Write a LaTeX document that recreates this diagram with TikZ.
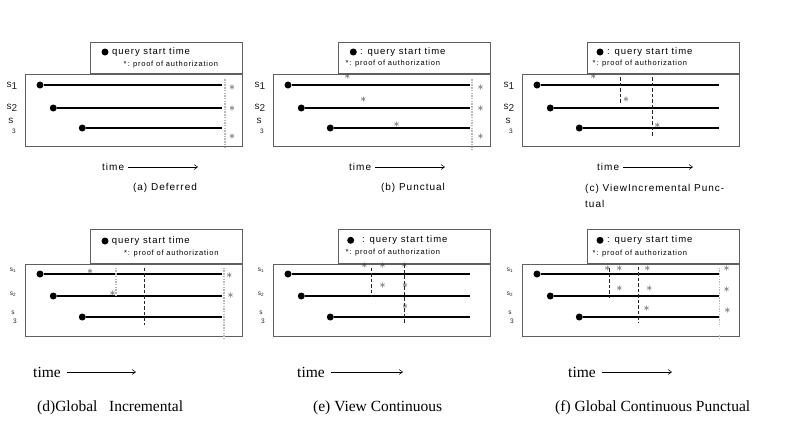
\documentclass[tikz,border=0pt]{standalone}
\usepackage{fontspec}
\setmainfont{Liberation Serif}
\newfontfamily\ssp[LetterSpace=10]{Liberation Sans}
\newfontfamily\plainsans{Liberation Sans}
\usetikzlibrary{arrows.meta}
\tikzset{
 boxsty/.style={draw=gray!75!black, line width=1.1pt, inner sep=0, rectangle},
 tl/.style={line width=1.1pt, black},
 qdot/.style={circle, fill=black, inner sep=0, minimum size=7pt},
 ldot/.style={circle, fill=black, inner sep=0, minimum size=7pt},
 astk/.style={inner sep=0, text=gray!45!black, font=\fontsize{12.5}{12.5}\selectfont},
 gdot/.style={draw=gray!55, line width=1.1pt, dash pattern=on 1.5pt off 1.2pt},
 ddash/.style={draw=gray!30!black, line width=0.7pt, dash pattern=on 3.5pt off 2pt},
 leg1/.style={anchor=west, inner sep=0, font=\ssp\fontsize{9.5}{10}\selectfont},
 leg2/.style={anchor=west, inner sep=0, font=\ssp\fontsize{7.5}{8}\selectfont},
 labT/.style={inner sep=0, font=\plainsans\fontsize{10}{10}\selectfont, text=gray!25!black},
 labB/.style={inner sep=0, font=\plainsans\fontsize{6.5}{7}\selectfont, text=gray!25!black},
 tarrow/.style={-{Straight Barb[length=3.5pt,width=5pt]}, line width=0.5pt},
 capT/.style={anchor=west, inner sep=0, font=\ssp\fontsize{10}{16}\selectfont, align=left},
 timeT/.style={anchor=west, inner sep=0, font=\ssp\fontsize{10}{10}\selectfont},
 timeB/.style={anchor=west, inner sep=0, font=\fontsize{15.5}{16}\selectfont},
 capB/.style={anchor=west, inner sep=0, font=\fontsize{15.5}{16}\selectfont},
}
% #1 legend height, #2 #3 #4 line ys
\newcommand\frameP[4]{%
  \node[boxsty, minimum width=152pt, minimum height=#1pt, anchor=south west] (leg) at (65,0) {};
  \node[boxsty, minimum width=217pt, minimum height=72pt, anchor=north west] (box) at (0,0) {};
  \coordinate (e1) at (197,#2); \coordinate (e2) at (197,#3); \coordinate (e3) at (197,#4);
  \node[qdot] (d1) at (15,#2) {};
  \node[qdot] (d2) at (28.3,#3) {};
  \node[qdot] (d3) at (57.3,#4) {};
  \draw[tl] (d1) -- (e1);
  \draw[tl] (d2) -- (e2);
  \draw[tl] (d3) -- (e3);
}
\newcommand\labsT{%
  \node[labT] (l1) at (-13,12) {s\raisebox{-2.5pt}{1}};
  \node[labT] (l2) at (-13,34) {s\raisebox{-2.5pt}{2}};
  \node[labT] (l3) at (-14,47) {s};
  \node[labT, font=\plainsans\fontsize{6.5}{7}\selectfont] (l3n) at (-11,57) {3};
}
\newcommand\labsB{%
  \node[labB] (l1) at (-12,6) {s\textsubscript{1}};
  \node[labB] (l2) at (-12,30) {s\textsubscript{2}};
  \node[labB] (l3) at (-12,49) {s};
  \node[labB] (l3n) at (-10,57) {3};
}
\begin{document}
\begin{tikzpicture}[x=1pt,y=-1pt]
\useasboundingbox (0,0) rectangle (787,429);
\fill[white] (0,0) rectangle (787,429);

% ---------- (a)
\begin{scope}[shift={(25,74)}, name prefix=a-]
  \frameP{31}{11}{34}{54}\labsT
  \node[ldot] (lq) at (80,-22) {};
  \node[leg1] (lqt) at (87,-22) {query start time};
  \node[leg2] (lpt) at (98.5,-9) {*: proof of authorization};
  \coordinate (v1t) at (200,5); \coordinate (v1b) at (200,74);
  \draw[gdot] (v1t) -- (v1b);
  \node[astk] (s1) at (207,14) {$\ast$};
  \node[astk] (s2) at (207,35) {$\ast$};
  \node[astk] (s3) at (207,63) {$\ast$};
  \node[timeT] (tm) at (77,93) {time};
  \coordinate (ta) at (173,93);
  \draw[tarrow] ([xshift=4pt]tm.east) -- (ta);
  \node[capT, anchor=center] (cap) at (140,114) {(a) Deferred};
\end{scope}

% ---------- (b)
\begin{scope}[shift={(273,74)}, name prefix=b-]
  \frameP{31}{11}{34}{54}\labsT
  \node[ldot] (lq) at (80.3,-22) {};
  \node[leg1] (lqt) at (87,-22) {: query start time};
  \node[leg2] (lpt) at (72.5,-10) {*: proof of authorization};
  \coordinate (v1t) at (199,5); \coordinate (v1b) at (199,76);
  \draw[gdot] (v1t) -- (v1b);
  \node[astk] (s1) at (207.7,14) {$\ast$};
  \node[astk] (s2) at (207.7,35) {$\ast$};
  \node[astk] (s3) at (207.7,63) {$\ast$};
  \node[astk] (x1) at (74.3,3.2) {$\ast$};
  \node[astk] (x2) at (90.3,26) {$\ast$};
  \node[astk] (x3) at (123.7,51) {$\ast$};
  \node[timeT] (tm) at (76,93) {time};
  \coordinate (ta) at (172,93);
  \draw[tarrow] ([xshift=4pt]tm.east) -- (ta);
  \node[capT, anchor=center] (cap) at (140,114) {(b) Punctual};
\end{scope}

% ---------- (c)
\begin{scope}[shift={(522,74)}, name prefix=c-]
  \frameP{31}{11}{34}{54}\labsT
  \node[ldot] (lq) at (78,-22) {};
  \node[leg1] (lqt) at (85,-22) {: query start time};
  \node[leg2] (lpt) at (70.5,-10) {*: proof of authorization};
  \coordinate (v1t) at (98,3.3); \coordinate (v1b) at (98,29.3);
  \coordinate (v2t) at (130.7,3); \coordinate (v2b) at (130.7,62.7);
  \draw[ddash] (v1t) -- (v1b);
  \draw[ddash] (v2t) -- (v2b);
  \node[astk] (x1) at (71.3,3.2) {$\ast$};
  \node[astk] (x2) at (104,26) {$\ast$};
  \node[astk] (x3) at (135.3,52) {$\ast$};
  \node[timeT] (tm) at (75,93) {time};
  \coordinate (ta) at (171,93);
  \draw[tarrow] ([xshift=4pt]tm.east) -- (ta);
  \node[capT] (cap) at (63,122) {(c) ViewIncremental Punc-\\tual};
\end{scope}

% ---------- (d)
\begin{scope}[shift={(25,264)}, name prefix=d-]
  \frameP{34}{10}{32}{53}\labsB
  \node[ldot] (lq) at (80,-23) {};
  \node[leg1] (lqt) at (86.7,-23) {query start time};
  \node[leg2] (lpt) at (99,-10) {*: proof of authorization};
  \coordinate (v1t) at (91,3.7); \coordinate (v1b) at (91,31);
  \coordinate (v2t) at (119,3.7); \coordinate (v2b) at (119,61);
  \coordinate (v3t) at (199,3.7); \coordinate (v3b) at (199,74);
  \draw[gdot] (v1t) -- (v1b);
  \draw[ddash] (v2t) -- (v2b);
  \draw[gdot] (v3t) -- (v3b);
  \node[astk] (x1) at (65,7.7) {$\ast$};
  \node[astk] (x2) at (87.7,29.3) {$\ast$};
  \node[astk] (s1) at (204.3,11.7) {$\ast$};
  \node[astk] (s2) at (205.7,31.7) {$\ast$};
  \node[timeB] (tm) at (8,108) {time};
  \coordinate (ta) at (111,108);
  \draw[tarrow] ([xshift=6pt]tm.east) -- (ta);
  \node[capB] (cap) at (12,144) {(d)Global\ \ \ Incremental};
\end{scope}

% ---------- (e)
\begin{scope}[shift={(273,264)}, name prefix=e-]
  \frameP{34}{10}{32}{53}\labsB
  \node[ldot] (lq) at (77.7,-23.7) {};
  \node[leg1] (lqt) at (89,-23.7) {: query start time};
  \node[leg2] (lpt) at (72.5,-11) {*: proof of authorization};
  \coordinate (v1t) at (98.7,3.7); \coordinate (v1b) at (98.7,32.7);
  \coordinate (v2t) at (131,0.3); \coordinate (v2b) at (131,59.3);
  \draw[ddash] (v1t) -- (v1b);
  \draw[ddash] (v2t) -- (v2b);
  \node[astk] (x1) at (91.3,1.7) {$\ast$};
  \node[astk] (x2) at (109.7,1.7) {$\ast$};
  \node[astk] (x3) at (131.3,1.7) {$\ast$};
  \node[astk] (x4) at (109.7,22) {$\ast$};
  \node[astk] (x5) at (132,22) {$\ast$};
  \node[astk] (x6) at (132,42.7) {$\ast$};
  \node[timeB] (tm) at (24,108) {time};
  \coordinate (ta) at (130,108);
  \draw[tarrow] ([xshift=6pt]tm.east) -- (ta);
  \node[capB] (cap) at (40,144) {(e) View Continuous};
\end{scope}

% ---------- (f)
\begin{scope}[shift={(522,264)}, name prefix=f-]
  \frameP{34}{10}{32}{53}\labsB
  \node[ldot] (lq) at (78,-23.7) {};
  \node[leg1] (lqt) at (85,-23.7) {: query start time};
  \node[leg2] (lpt) at (70.5,-10) {*: proof of authorization};
  \coordinate (v1t) at (87.3,4); \coordinate (v1b) at (87.3,33.7);
  \coordinate (v2t) at (116.3,2.7); \coordinate (v2b) at (116.3,59.3);
  \coordinate (v3t) at (197.3,3.7); \coordinate (v3b) at (197.3,61);
  \coordinate (v4t) at (197.3,71); \coordinate (v4b) at (197.3,74);
  \draw[ddash] (v1t) -- (v1b);
  \draw[ddash] (v2t) -- (v2b);
  \draw[gdot] (v3t) -- (v3b);
  \draw[gdot] (v4t) -- (v4b);
  \node[astk] (x1) at (85.3,4.3) {$\ast$};
  \node[astk] (x2) at (97.3,4.3) {$\ast$};
  \node[astk] (x3) at (125.3,4.3) {$\ast$};
  \node[astk] (x4) at (97.3,24.3) {$\ast$};
  \node[astk] (x5) at (127.3,24.3) {$\ast$};
  \node[astk] (x6) at (124.7,44.3) {$\ast$};
  \node[astk] (s1) at (204.7,4.3) {$\ast$};
  \node[astk] (s2) at (204.7,26) {$\ast$};
  \node[astk] (s3) at (205.3,47) {$\ast$};
  \node[timeB] (tm) at (46,108) {time};
  \coordinate (ta) at (150,108);
  \draw[tarrow] ([xshift=6pt]tm.east) -- (ta);
  \node[capB] (cap) at (33,144) {(f) Global Continuous Punctual};
\end{scope}
\end{tikzpicture}
\end{document}
